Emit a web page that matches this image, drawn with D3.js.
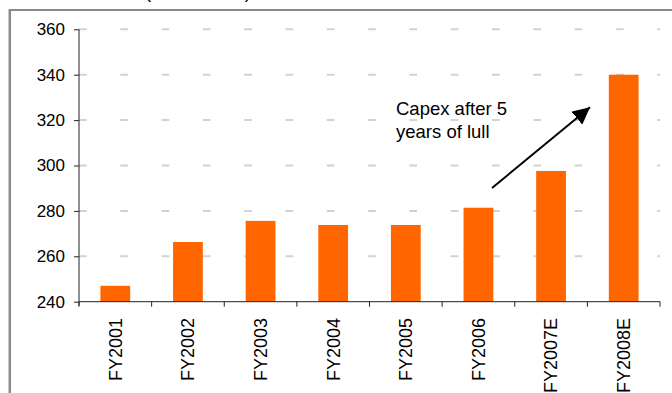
<!DOCTYPE html>
<html>
<head>
<meta charset="utf-8">
<script src="https://cdn.jsdelivr.net/npm/d3@7/dist/d3.min.js"></script>
<style>
  html, body { margin: 0; padding: 0; background: #fff; }
  svg { display: block; font-family: Arial, "Liberation Sans", sans-serif; }
</style>
</head>
<body>
<svg id="chart" width="672" height="393"></svg>
<script>
// Capex by fiscal year
const categories = ["FY2001", "FY2002", "FY2003", "FY2004", "FY2005", "FY2006", "FY2007E", "FY2008E"];
const capex = [247, 266.3, 275.6, 273.8, 273.8, 281.4, 297.6, 340];
const yTicks = [240, 260, 280, 300, 320, 340, 360];
const titleText = "(US$ million)";
const noteLines = ["Capex after 5", "years of lull"];

const svg = d3.select("#chart");
const plotL = 79, plotR = 660, plotT = 29.3, plotB = 301.7;

const x = d3.scaleBand().domain(categories).range([plotL, plotR])
  .paddingInner(0.59).paddingOuter(0.295);
const y = d3.scaleLinear().domain([240, 360]).range([plotB, plotT]);

// outer frame (top and left edges visible)
svg.append("line").attr("x1", 9).attr("x2", 672).attr("y1", 10).attr("y2", 10)
  .attr("stroke", "#8a8a8a").attr("stroke-width", 2);
svg.append("line").attr("x1", 9.8).attr("x2", 9.8).attr("y1", 9).attr("y2", 393)
  .attr("stroke", "#8a8a8a").attr("stroke-width", 2.5);

// title, mostly clipped by the top edge
svg.append("text").attr("x", 145).attr("y", -2).attr("font-size", 18.5)
  .attr("fill", "#000").text(titleText);

// dashed gridlines
svg.append("g").selectAll("line").data(yTicks.filter(d => d > 240)).join("line")
  .attr("x1", plotL).attr("x2", plotR)
  .attr("y1", d => y(d)).attr("y2", d => y(d))
  .attr("stroke", "#d2d2d2").attr("stroke-width", 2)
  .attr("stroke-dasharray", "7.7,33.6");

// bars
svg.append("g").selectAll("rect").data(categories).join("rect")
  .attr("x", d => x(d)).attr("width", x.bandwidth())
  .attr("y", (d, i) => y(capex[i]))
  .attr("height", (d, i) => plotB - y(capex[i]))
  .attr("fill", "#ff6600");

// y axis
const yAxis = d3.axisLeft(y).tickValues(yTicks).tickSize(5).tickPadding(9);
const gy = svg.append("g").attr("transform", `translate(${plotL},0)`).call(yAxis);
gy.select(".domain").attr("stroke", "#222").attr("d", `M0,${plotT}V${plotB + 4}`);
gy.selectAll(".tick line").attr("stroke", "#222");
gy.selectAll(".tick text").attr("font-size", 17).attr("fill", "#000")
  .attr("font-family", "Arial, 'Liberation Sans', sans-serif");

// x axis line with ticks at category boundaries
const boundaries = categories.map(c => x(c) - (x.step() - x.bandwidth()) / 2).concat([plotR]);
const gx = svg.append("g");
gx.append("line").attr("x1", plotL).attr("x2", plotR).attr("y1", plotB).attr("y2", plotB)
  .attr("stroke", "#222");
gx.selectAll("line.t").data(boundaries).join("line").attr("class", "t")
  .attr("x1", d => d).attr("x2", d => d).attr("y1", plotB).attr("y2", plotB + 5)
  .attr("stroke", "#222");
gx.selectAll("text").data(categories).join("text")
  .attr("transform", d => `translate(${x(d) + x.bandwidth() / 2},318) rotate(-90)`)
  .attr("text-anchor", "end").attr("dy", "0.35em")
  .attr("font-size", 18).attr("fill", "#000").text(d => d);

// annotation
svg.append("text").attr("x", 396).attr("font-size", 18.5).attr("fill", "#000")
  .selectAll("tspan").data(noteLines).join("tspan")
  .attr("x", 396).attr("y", (d, i) => 115 + i * 23).text(d => d);

svg.append("defs").append("marker").attr("id", "head")
  .attr("viewBox", "0 0 10 10").attr("refX", 10).attr("refY", 5)
  .attr("markerWidth", 8.5).attr("markerHeight", 8.5).attr("markerUnits", "strokeWidth")
  .attr("orient", "auto")
  .append("path").attr("d", "M0,0L10,5L0,10Z").attr("fill", "#000");

svg.append("line").attr("x1", 492).attr("y1", 188).attr("x2", 590).attr("y2", 107.3)
  .attr("stroke", "#000").attr("stroke-width", 2).attr("marker-end", "url(#head)");
</script>
</body>
</html>
